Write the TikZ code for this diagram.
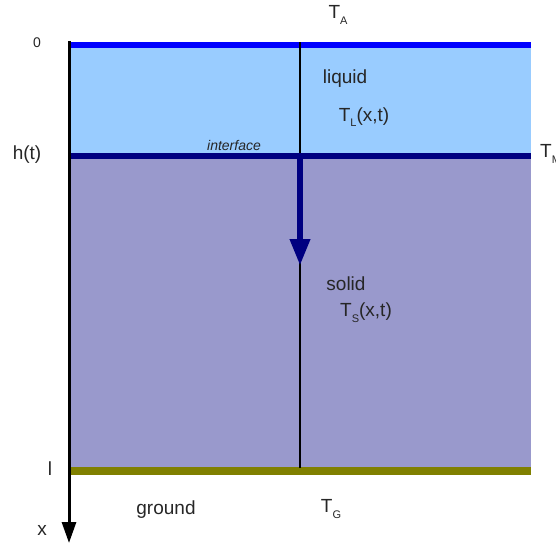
\documentclass[tikz,border=0pt]{standalone}
\usepackage{fontspec}
\setmainfont{Liberation Sans}
\usetikzlibrary{arrows.meta}
\definecolor{liquidblue}{HTML}{99CCFF}
\definecolor{solidblue}{HTML}{9999CC}
\definecolor{navy}{HTML}{000080}
\definecolor{surfblue}{HTML}{0000FF}
\definecolor{groundolive}{HTML}{808000}
\newcommand{\lowsub}[1]{\raisebox{-0.3em}{\fontsize{11}{11}\selectfont #1}}
\begin{document}
\begin{tikzpicture}[x=1pt,y=-1pt,
		lbl/.style={font=\fontsize{19}{19}\selectfont, text=black!85, inner sep=0pt},
		small/.style={font=\fontsize{14}{14}\selectfont, text=black!85, inner sep=0pt}]
			\useasboundingbox (0,0) rectangle (556,549);
			% layers
			\fill [liquidblue] (69,45) rectangle (531,156);
			\fill [solidblue] (69,156) rectangle (531,471);
			\coordinate (surfL) at (69,45);
			\coordinate (surfR) at (531,45);
			\coordinate (intL) at (69,156);
			\coordinate (intR) at (531,156);
			\coordinate (grdL) at (69,471);
			\coordinate (grdR) at (531,471);
			\coordinate (mtop) at (300,42);
			\coordinate (mbot) at (300,468);
			\coordinate (mint) at (300,153);
			\coordinate (mtip) at (300,266);
			\coordinate (origin) at (69,41);
			\coordinate (xend) at (69,543);
			\draw [surfblue, line width=6pt] (surfL) -- (surfR);
			\draw [groundolive, line width=8pt] (grdL) -- (grdR);
			\draw [black, line width=2.8pt] (mtop) -- (mbot);
			\draw [navy, line width=6pt] (intL) -- (intR);
			\draw [navy, line width=6.5pt, -{Triangle[length=27pt,width=19pt]}] (mint) -- (mtip);
			\draw [black, line width=3pt, -{Triangle[length=21pt,width=14pt]}] (origin) -- (xend);
			% labels
			\node [small] (zero) at (37,43) {0};
			\node [lbl] (ht) at (27,155) {h(t)};
			\node [lbl] (ell) at (50,469) {l};
			\node [lbl] (xlab) at (42,530) {x};
			\node [lbl] (ground) at (166,510) {ground};
			\node [lbl] (TG) at (331,509) {T\lowsub{G}};
			\node [lbl] (TA) at (338,15) {T\lowsub{A}};
			\node [lbl] (liquid) at (345,79) {liquid};
			\node [lbl] (TL) at (364,117) {T\lowsub{L}(x,t)};
			\node [lbl] (solid) at (346,284) {solid};
			\node [lbl] (TS) at (366,313) {T\lowsub{S}(x,t)};
			\node [small, font=\fontsize{14}{14}\selectfont\itshape] (iface) at (234,145) {interface};
			\node [lbl, anchor=west] (TM) at (540,154) {T\lowsub{M}};
\end{tikzpicture}
\end{document}
